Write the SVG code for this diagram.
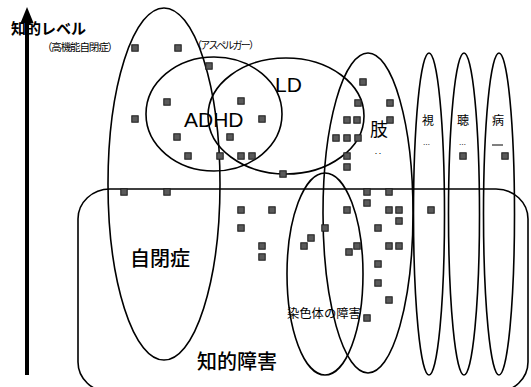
<svg xmlns="http://www.w3.org/2000/svg" xmlns:xlink="http://www.w3.org/1999/xlink" width="531" height="387" viewBox="0 0 531 387">
<style>
.ln{fill:none;stroke:#000;stroke-width:1.6}
.t{font-family:"Noto Sans CJK JP","Liberation Sans",sans-serif;fill:#000}
.en{font-family:"Liberation Sans",Arial,sans-serif;fill:#000}
.sq{fill:#5a5a5a;stroke:#1a1a1a;stroke-width:1}
</style>
<defs>
<rect id="s" class="sq" x="-3.2" y="-3.2" width="6.4" height="6.4"/>
</defs>
<rect width="531" height="387" fill="#fff"/>

<g id="axis">
<line x1="27" y1="20" x2="27" y2="375" stroke="#000" stroke-width="4"/>
<polygon points="27,7 20.5,23 33.5,23" fill="#000"/>
<text class="t" x="11" y="34" font-size="15" font-weight="bold">知的レベル</text>
<text class="t" x="42" y="51" font-size="10.5" textLength="76">（高機能自閉症）</text>
</g>

<g id="intellectual-disability">
<rect class="ln" x="78" y="189" width="450" height="203" rx="32" ry="30"/>
<text class="t" x="197" y="369" font-size="20" font-weight="500">知的障害</text>
</g>

<g id="autism">
<ellipse class="ln" cx="164" cy="184" rx="56" ry="176"/>
<text class="t" x="130" y="266" font-size="20" font-weight="500">自閉症</text>
<text class="t" x="192" y="49" font-size="10" textLength="67">（アスペルガー）</text>
</g>

<g id="adhd">
<ellipse class="ln" cx="214" cy="114" rx="68" ry="57"/>
<text class="en" x="184" y="127" font-size="21">ADHD</text>
</g>

<g id="ld">
<ellipse class="ln" cx="286" cy="116" rx="78" ry="58"/>
<text class="en" x="275" y="92" font-size="21">LD</text>
</g>

<g id="limb">
<ellipse class="ln" cx="368" cy="213" rx="45" ry="160"/>
<text class="t" x="370" y="136" font-size="18">肢</text>
<text class="t" x="374" y="157" font-size="8">‥</text>
</g>

<g id="chromosome">
<ellipse class="ln" cx="325" cy="274" rx="38" ry="101"/>
<text class="t" x="287" y="318" font-size="12.3">染色体の障害</text>
</g>

<g id="visual">
<ellipse class="ln" cx="429" cy="214" rx="15.5" ry="161"/>
<text class="t" x="422" y="125" font-size="12">視</text>
<text class="t" x="423" y="147" font-size="7">…</text>
</g>

<g id="hearing">
<ellipse class="ln" cx="464" cy="214" rx="15.5" ry="161"/>
<text class="t" x="457" y="125" font-size="12">聴</text>
<text class="t" x="459" y="147" font-size="7">…</text>
</g>

<g id="illness">
<ellipse class="ln" cx="499" cy="214" rx="15.5" ry="161"/>
<text class="t" x="492" y="125" font-size="12">病</text>
<line x1="492" y1="145" x2="503" y2="145" stroke="#000" stroke-width="1"/>
</g>

<g id="cases">
<use xlink:href="#s" x="135" y="48"/><use xlink:href="#s" x="178" y="48"/><use xlink:href="#s" x="209" y="66"/>
<use xlink:href="#s" x="167" y="102"/><use xlink:href="#s" x="241" y="101"/><use xlink:href="#s" x="135" y="119"/>
<use xlink:href="#s" x="262" y="119"/><use xlink:href="#s" x="177" y="137"/><use xlink:href="#s" x="230" y="137"/>
<use xlink:href="#s" x="188" y="156"/><use xlink:href="#s" x="220" y="156"/><use xlink:href="#s" x="241" y="156"/>
<use xlink:href="#s" x="252" y="156"/><use xlink:href="#s" x="124" y="192"/><use xlink:href="#s" x="167" y="192"/>
<use xlink:href="#s" x="363" y="82"/><use xlink:href="#s" x="358" y="103"/><use xlink:href="#s" x="390" y="103"/>
<use xlink:href="#s" x="347" y="120"/><use xlink:href="#s" x="357" y="120"/><use xlink:href="#s" x="390" y="120"/>
<use xlink:href="#s" x="336" y="138"/><use xlink:href="#s" x="347" y="138"/><use xlink:href="#s" x="358" y="138"/>
<use xlink:href="#s" x="347" y="156"/><use xlink:href="#s" x="347" y="167"/><use xlink:href="#s" x="283" y="174"/>
<use xlink:href="#s" x="463" y="156"/><use xlink:href="#s" x="505" y="156"/><use xlink:href="#s" x="367" y="192"/>
<use xlink:href="#s" x="389" y="192"/><use xlink:href="#s" x="241" y="210"/><use xlink:href="#s" x="272" y="210"/>
<use xlink:href="#s" x="241" y="228"/><use xlink:href="#s" x="262" y="246"/><use xlink:href="#s" x="262" y="257"/>
<use xlink:href="#s" x="367" y="203"/><use xlink:href="#s" x="347" y="210"/><use xlink:href="#s" x="389" y="210"/>
<use xlink:href="#s" x="399" y="210"/><use xlink:href="#s" x="431" y="210"/><use xlink:href="#s" x="399" y="221"/>
<use xlink:href="#s" x="325" y="228"/><use xlink:href="#s" x="378" y="228"/><use xlink:href="#s" x="311" y="238"/>
<use xlink:href="#s" x="304" y="246"/><use xlink:href="#s" x="357" y="246"/><use xlink:href="#s" x="349" y="252"/>
<use xlink:href="#s" x="389" y="246"/><use xlink:href="#s" x="399" y="246"/><use xlink:href="#s" x="378" y="264"/>
<use xlink:href="#s" x="378" y="283"/><use xlink:href="#s" x="389" y="300"/><use xlink:href="#s" x="367" y="318"/>
</g>
</svg>
